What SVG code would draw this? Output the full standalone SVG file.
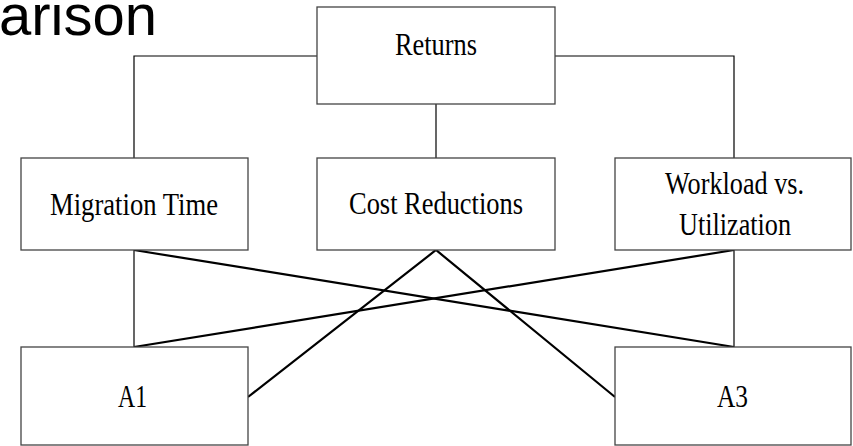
<svg xmlns="http://www.w3.org/2000/svg" width="853" height="446" viewBox="0 0 853 446">
<style>
.box{fill:#fff;stroke:#444;stroke-width:1.3}
.lbl{font-family:"Liberation Serif","Times New Roman",serif;font-size:32px;fill:#000;text-anchor:middle}
.thin{fill:none;stroke:#000;stroke-width:1.2}
.thick{fill:none;stroke:#000;stroke-width:2.2}
.title{font-family:"Liberation Sans",Arial,sans-serif;font-size:58px;fill:#000;text-anchor:end}
</style>
<rect width="853" height="446" fill="#fff"/>
<text class="title" x="157" y="35">arison</text>
<g id="connectors">
<polyline class="thin" points="134,158 134,56 317,56"/>
<polyline class="thin" points="555,56 734,56 734,158"/>
<line class="thin" x1="436" y1="104" x2="436" y2="158"/>
<line class="thin" x1="134" y1="250" x2="134" y2="347"/>
<line class="thin" x1="734" y1="250" x2="734" y2="347"/>
<line class="thick" x1="134" y1="250" x2="734" y2="347"/>
<line class="thick" x1="734" y1="250" x2="134" y2="347"/>
<polyline class="thick" points="248,397 436,250 615,397"/>
</g>
<g id="returns">
<rect class="box" x="317" y="7" width="238" height="97"/>
<text class="lbl" x="436" y="55" textLength="82" lengthAdjust="spacingAndGlyphs">Returns</text>
</g>
<g id="migration">
<rect class="box" x="21" y="158" width="227" height="92"/>
<text class="lbl" x="134" y="215" textLength="168" lengthAdjust="spacingAndGlyphs">Migration Time</text>
</g>
<g id="cost">
<rect class="box" x="317" y="158" width="238" height="92"/>
<text class="lbl" x="436" y="214" textLength="174" lengthAdjust="spacingAndGlyphs">Cost Reductions</text>
</g>
<g id="workload">
<rect class="box" x="615" y="158" width="236" height="92"/>
<text class="lbl" x="734.5" y="194" textLength="139" lengthAdjust="spacingAndGlyphs">Workload vs.</text>
<text class="lbl" x="735" y="235" textLength="112" lengthAdjust="spacingAndGlyphs">Utilization</text>
</g>
<g id="a1">
<rect class="box" x="21" y="347" width="227" height="98"/>
<text class="lbl" x="132.5" y="407" textLength="29" lengthAdjust="spacingAndGlyphs">A1</text>
</g>
<g id="a3">
<rect class="box" x="615" y="347" width="236" height="98"/>
<text class="lbl" x="732.5" y="407" textLength="31" lengthAdjust="spacingAndGlyphs">A3</text>
</g>
</svg>
